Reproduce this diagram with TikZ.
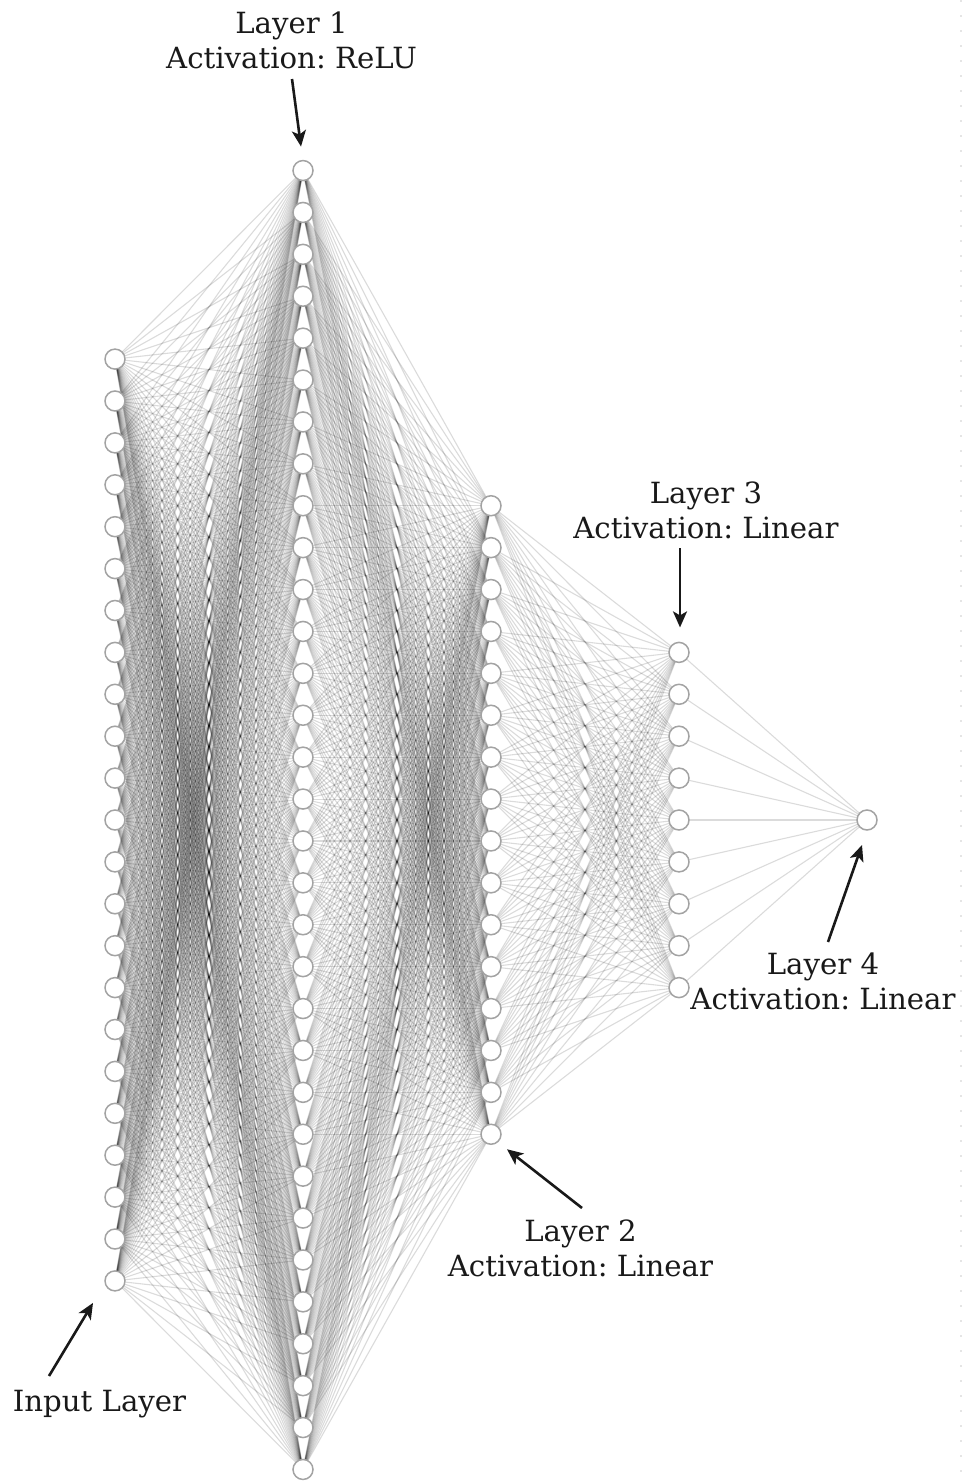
\documentclass[tikz,border=0pt]{standalone}
\usepackage{fontspec}
\setmainfont{DejaVu Serif}
\usetikzlibrary{arrows.meta}
\pgfdeclarelayer{edges}
\pgfsetlayers{edges,main}
\frenchspacing
\begin{document}
\begin{tikzpicture}[x=1pt,y=-1pt,
  neuron/.style={circle,draw=black!36,fill=white,line width=1.5pt,minimum size=20pt,inner sep=0pt},
  synapse/.style={draw=black,draw opacity=0.14,line width=1.1pt},
  lbl/.style={align=center,inner sep=0pt,font=\fontsize{29.2}{35}\selectfont\frenchspacing,text=black!90},
  pointer/.style={-{Stealth[length=16pt,width=14pt,inset=4pt]},line width=2.6pt,black!90},
  edgeline/.style={draw=black!10,line width=1.5pt,dash pattern=on 1.5pt off 13.5pt}]
\useasboundingbox (0,0) rectangle (966,1483);
% faint dotted frame line at the right edge
\draw[edgeline] (961,0) -- (961,1483);
% neurons
\foreach \l/\n in {0/23,1/32,2/16,3/9,4/1}{
  \foreach \i in {1,...,\n}{
    \node[neuron] (n\l-\i) at ({115+188*\l},{820+41.9*(\i-(\n+1)/2)}) {};
  }
}
% connections
\begin{pgfonlayer}{edges}
\foreach \a/\na/\b/\nb in {0/23/1/32,1/32/2/16,2/16/3/9,3/9/4/1}{
  \foreach \i in {1,...,\na}{
    \foreach \j in {1,...,\nb}{
      \draw[synapse] (n\a-\i.center) -- (n\b-\j.center);
    }
  }
}
\end{pgfonlayer}
% labels
\node[lbl,anchor=south] (lab1) at (291.5,69) {Layer 1\\Activation: ReLU};
\node[lbl,anchor=south] (lab3) at (706,539) {Layer 3\\Activation: Linear};
\node[lbl,anchor=south] (lab4) at (823,1010) {Layer 4\\Activation: Linear};
\node[lbl,anchor=south] (lab2) at (580.5,1277) {Layer 2\\Activation: Linear};
\node[lbl,anchor=base] (lab0) at (99.5,1411) {Input Layer};
% pointer arrows
\coordinate (s1) at (292,79);
\path (n1-1.center) ++(-2,-24) coordinate (e1);
\coordinate (s3) at (680,548);
\path (n3-1.center) ++(1,-25) coordinate (e3);
\coordinate (s4) at (828,942);
\path (n4-1.center) ++(-5,25) coordinate (e4);
\coordinate (s2) at (582,1208);
\path (n2-16.center) ++(16,15) coordinate (e2);
\coordinate (s0) at (49,1376);
\path (n0-23.center) ++(-22,22) coordinate (e0);
\draw[pointer] (s1) -- (e1);
\draw[pointer] (s3) -- (e3);
\draw[pointer] (s4) -- (e4);
\draw[pointer] (s2) -- (e2);
\draw[pointer] (s0) -- (e0);
\end{tikzpicture}
\end{document}
